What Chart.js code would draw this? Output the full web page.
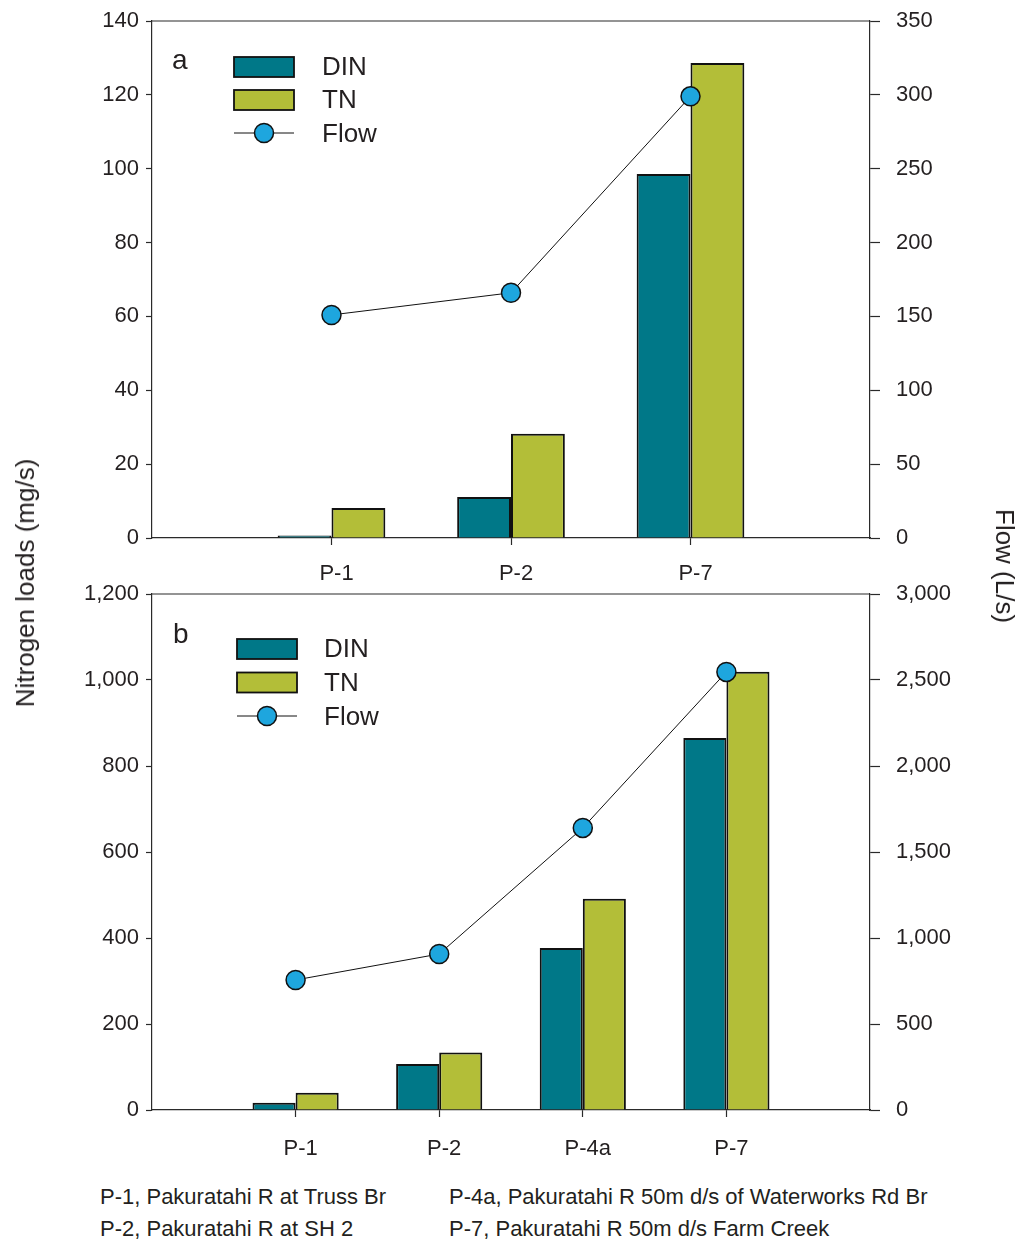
<!DOCTYPE html>
<html>
<head>
<meta charset="utf-8">
<title>Nitrogen loads</title>
<script src="https://cdn.jsdelivr.net/npm/chart.js@4.4.1/dist/chart.umd.min.js"></script>
<style>
body { margin: 0; background: #fff; }
#wrap { position: relative; width: 1024px; height: 1245px; font-family: "Liberation Sans", Arial, sans-serif; color: #231f20; overflow: hidden; }
canvas { position: absolute; left: 0; }
#c1 { top: -10px; }
#c2 { top: 560px; }
.ttl { position: absolute; font-size: 26px; white-space: nowrap; line-height: 30px; }
#ytl { left: 25px; top: 583px; transform: translate(-50%, -50%) rotate(-90deg); }
#ytr { left: 1005px; top: 566px; transform: translate(-50%, -50%) rotate(90deg); }
.note { position: absolute; top: 1181px; font-size: 22px; line-height: 32px; white-space: nowrap; }
</style>
</head>
<body>
<div id="wrap">
  <canvas id="c1" width="1024" height="610"></canvas>
  <canvas id="c2" width="1024" height="620"></canvas>
  <div class="ttl" id="ytl">Nitrogen loads (mg/s)</div>
  <div class="ttl" id="ytr">Flow (L/s)</div>
  <div class="note" style="left:100px">P-1, Pakuratahi R at Truss Br<br>P-2, Pakuratahi R at SH 2</div>
  <div class="note" style="left:449px">P-4a, Pakuratahi R 50m d/s of Waterworks Rd Br<br>P-7, Pakuratahi R 50m d/s Farm Creek</div>
</div>
<script>
// panel a
var sitesA = ['P-1', 'P-2', 'P-7'];
var dinA = [0.7, 11.1, 98.6];
var tnA = [8.1, 28.2, 128.6];
var flowA = [151, 166, 299];
var loadTicksA = [0, 140, 20];   // min, max, step
var flowTicksA = [0, 350, 50];

// panel b
var sitesB = ['P-1', 'P-2', 'P-4a', 'P-7'];
var dinB = [17, 107, 377, 865];
var tnB = [40, 134, 491, 1019];
var flowB = [756, 907, 1640, 2547];
var loadTicksB = [0, 1200, 200];
var flowTicksB = [0, 3000, 500];

var INK = '#231f20';
var AXIS = '#2a2a2a';
var FONT = '"Liberation Sans", Arial, sans-serif';

// empty slot on each side of the sites
function pad(arr) { return [null].concat(arr, [null]); }

var decor = {
    id: 'decor',
    afterDraw: function(chart) {
        var o = chart.options.plugins.decor;
        var ctx = chart.ctx, a = chart.chartArea;
        var ds = chart.data.datasets;
        ctx.save();
        ctx.strokeStyle = AXIS;
        ctx.lineWidth = 1.2;
        ctx.beginPath();
        ctx.moveTo(a.left, a.top);
        ctx.lineTo(a.right, a.top);
        ctx.stroke();

        ctx.fillStyle = INK;
        ctx.textBaseline = 'alphabetic';
        ctx.font = '28px ' + FONT;
        ctx.fillText(o.letter, o.letterX, a.top + o.letterY);

        // legend: DIN, TN boxes then Flow line
        ctx.font = '26px ' + FONT;
        for (var i = 0; i < 2; i++) {
            var y = a.top + o.top + i * o.step;
            ctx.fillStyle = ds[i + 1].backgroundColor;
            ctx.fillRect(o.x, y, 60, 20);
            ctx.lineWidth = 1.8;
            ctx.strokeStyle = '#111';
            ctx.strokeRect(o.x, y, 60, 20);
            ctx.fillStyle = INK;
            ctx.fillText(ds[i + 1].label, o.textX, y + 18);
        }
        var fy = a.top + o.top + 2 * o.step + 10;
        ctx.strokeStyle = '#111';
        ctx.lineWidth = 1;
        ctx.beginPath();
        ctx.moveTo(o.x, fy);
        ctx.lineTo(o.x + 60, fy);
        ctx.stroke();
        ctx.beginPath();
        ctx.arc(o.x + 30, fy, 9.5, 0, Math.PI * 2);
        ctx.fillStyle = ds[0].pointBackgroundColor;
        ctx.fill();
        ctx.lineWidth = 1.5;
        ctx.stroke();
        ctx.fillStyle = INK;
        ctx.fillText(ds[0].label, o.textX, fy + 9);
        ctx.restore();
    }
};

function makeChart(id, sites, din, tn, flow, lt, ft, padTop, xHeight, xPad, deco) {
    var labels = [''].concat(sites, ['']);
    var last = labels.length - 1;
    return new Chart(document.getElementById(id).getContext('2d'), {
        type: 'bar',
        data: {
            labels: labels,
            datasets: [{
                type: 'line',
                label: 'Flow',
                data: pad(flow),
                yAxisID: 'y1',
                borderColor: '#111',
                borderWidth: 1,
                pointRadius: 9.5,
                pointBackgroundColor: '#1ea6de',
                pointBorderColor: '#111',
                pointBorderWidth: 1.5,
                order: 0
            }, {
                label: 'DIN',
                data: pad(din),
                yAxisID: 'y',
                backgroundColor: '#007888',
                borderColor: '#111',
                borderWidth: 2,
                order: 1
            }, {
                label: 'TN',
                data: pad(tn),
                yAxisID: 'y',
                backgroundColor: '#b3be38',
                borderColor: '#111',
                borderWidth: 2,
                order: 1
            }]
        },
        options: {
            responsive: false,
            animation: false,
            devicePixelRatio: 1,
            categoryPercentage: 0.6,
            barPercentage: 1.0,
            layout: { padding: { top: padTop, left: 0, right: 0, bottom: 0 } },
            plugins: {
                legend: { display: false },
                tooltip: { enabled: false },
                decor: deco
            },
            scales: {
                x: {
                    offset: false,
                    grid: {
                        offset: false,
                        drawOnChartArea: false,
                        tickLength: 7,
                        tickWidth: 1.2,
                        tickColor: function(c) { return (c.index === 0 || c.index === last) ? 'rgba(0,0,0,0)' : AXIS; }
                    },
                    border: { color: AXIS, width: 1.2 },
                    ticks: { color: INK, font: { family: FONT, size: 22 }, padding: xPad, labelOffset: 5, maxRotation: 0, autoSkip: false },
                    afterFit: function(s) { s.height = xHeight; }
                },
                y: {
                    position: 'left',
                    min: lt[0], max: lt[1],
                    grid: { drawOnChartArea: false, tickLength: 6, tickWidth: 1.2, tickColor: AXIS },
                    border: { color: AXIS, width: 1.2 },
                    ticks: {
                        stepSize: lt[2], color: INK, padding: 7,
                        font: { family: FONT, size: 22 },
                        callback: function(v) { return v.toLocaleString('en-US'); }
                    },
                    afterFit: function(s) { s.width = 152; }
                },
                y1: {
                    position: 'right',
                    min: ft[0], max: ft[1],
                    grid: { drawOnChartArea: false, tickLength: 10, tickWidth: 1.2, tickColor: AXIS },
                    border: { color: AXIS, width: 1.2 },
                    ticks: {
                        stepSize: ft[2], color: INK, padding: 16,
                        font: { family: FONT, size: 22 },
                        callback: function(v) { return v.toLocaleString('en-US'); }
                    },
                    afterFit: function(s) { s.width = 154; }
                }
            }
        },
        plugins: [decor]
    });
}

window.onload = function() {
    // canvas c1 sits 10px above the page top, so its plot starts at page y 21
    makeChart('c1', sitesA, dinA, tnA, flowA, loadTicksA, flowTicksA, 31, 62, 16,
        { letter: 'a', letterX: 172, letterY: 48, x: 234, top: 36, step: 33, textX: 322 });
    makeChart('c2', sitesB, dinB, tnB, flowB, loadTicksB, flowTicksB, 34, 70, 19,
        { letter: 'b', letterX: 173, letterY: 49, x: 237, top: 45, step: 33.5, textX: 324 });
};
</script>
</body>
</html>
